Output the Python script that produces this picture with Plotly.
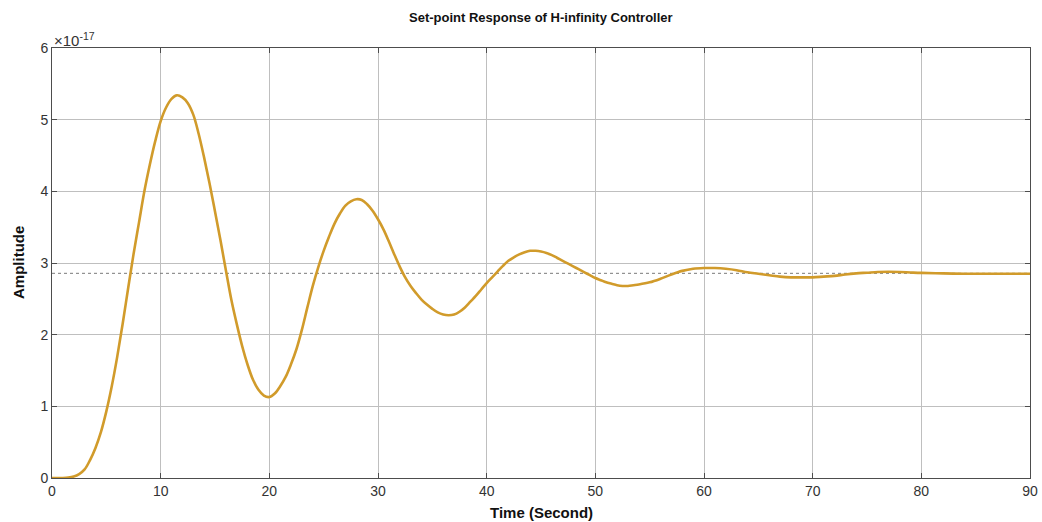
import plotly.graph_objects as go

# Time (s) and amplitude (in units of 1e-17)
time_s = [0, 0.5, 1.0, 1.5, 2.0, 2.5, 3.0, 3.5, 4.0, 4.5, 5.0, 5.5, 6.0, 6.5, 7.0, 7.5,
          8.0, 8.5, 9.0, 9.5, 10.0, 10.5, 11.0, 11.5, 12.0, 12.5, 13.0, 13.5, 14.0, 14.5,
          15.0, 15.5, 16.0, 16.5, 17.0, 17.5, 18.0, 18.5, 19.0, 19.5, 20.0, 20.5, 21.0,
          21.5, 22.0, 22.5, 23.0, 23.5, 24.0, 24.5, 25.0, 25.5, 26.0, 26.5, 27.0, 27.5,
          28.0, 28.5, 29.0, 29.5, 30.0, 30.5, 31.0, 31.5, 32.0, 32.5, 33.0, 33.5, 34.0,
          34.5, 35.0, 35.5, 36.0, 36.5, 37.0, 37.5, 38.0, 38.5, 39.0, 39.5, 40.0, 40.5,
          41.0, 41.5, 42.0, 42.5, 43.0, 43.5, 44.0, 44.5, 45.0, 45.5, 46.0, 46.5, 47.0,
          47.5, 48.0, 48.5, 49.0, 49.5, 50.0, 50.5, 51.0, 51.5, 52.0, 52.5, 53.0, 53.5,
          54.0, 55, 56, 57, 58, 59, 60, 61, 62, 63, 64, 65, 66, 67, 68, 69, 70, 71, 72,
          73, 74, 75, 76, 77, 78, 79, 80, 82, 84, 86, 88, 90]
amplitude = [0, 0, 0.0, 0.005, 0.02, 0.055, 0.12, 0.25, 0.42, 0.64, 0.93, 1.28, 1.69,
             2.15, 2.64, 3.12, 3.56, 4.0, 4.37, 4.70, 4.98, 5.17, 5.29, 5.34, 5.31, 5.23,
             5.07, 4.80, 4.47, 4.11, 3.72, 3.32, 2.90, 2.49, 2.15, 1.84, 1.58, 1.37, 1.23,
             1.15, 1.13, 1.18, 1.28, 1.41, 1.59, 1.80, 2.07, 2.38, 2.68, 2.94, 3.17, 3.37,
             3.55, 3.69, 3.80, 3.86, 3.89, 3.88, 3.82, 3.73, 3.61, 3.47, 3.30, 3.12, 2.95,
             2.80, 2.68, 2.58, 2.49, 2.42, 2.36, 2.31, 2.28, 2.27, 2.28, 2.32, 2.38, 2.46,
             2.54, 2.63, 2.72, 2.80, 2.88, 2.96, 3.03, 3.08, 3.12, 3.15, 3.17, 3.17, 3.16,
             3.14, 3.11, 3.07, 3.03, 2.99, 2.95, 2.91, 2.87, 2.83, 2.79, 2.76, 2.73, 2.71,
             2.69, 2.68, 2.68, 2.69, 2.70, 2.73, 2.78, 2.84, 2.89, 2.92, 2.93, 2.93, 2.92,
             2.90, 2.87, 2.85, 2.83, 2.81, 2.80, 2.80, 2.80, 2.81, 2.82, 2.84, 2.855, 2.865,
             2.875, 2.878, 2.875, 2.868, 2.862, 2.855, 2.85, 2.85, 2.85, 2.85]
steady_state = 2.856
x_ticks = [0, 10, 20, 30, 40, 50, 60, 70, 80, 90]
y_ticks = [0, 1, 2, 3, 4, 5, 6]

font_family = "Liberation Sans, Arial, sans-serif"

fig = go.Figure()
fig.add_trace(go.Scatter(
    x=[0, 90], y=[steady_state, steady_state], mode="lines",
    line=dict(color="#7a7a7a", width=1, dash="dot"), hoverinfo="skip", showlegend=False))
fig.add_trace(go.Scatter(
    x=time_s, y=amplitude, mode="lines",
    line=dict(color="#D19B2B", width=2.6, shape="spline", smoothing=1.0),
    showlegend=False))

axis_common = dict(
    showline=True, linecolor="#4d4d4d", linewidth=1, mirror="ticks",
    showgrid=True, gridcolor="#bfbfbf", gridwidth=1,
    ticks="inside", ticklen=5, tickcolor="#4d4d4d",
    tickfont=dict(family=font_family, size=14, color="#333333"),
    zeroline=False, automargin=False,
)

fig.update_layout(
    width=1042, height=522,
    margin=dict(l=52, r=12, t=48, b=44, autoexpand=False),
    paper_bgcolor="white", plot_bgcolor="white",
    xaxis=dict(range=[0, 90], tickvals=x_ticks, ticktext=[str(v) for v in x_ticks],
               **axis_common),
    yaxis=dict(range=[0, 6], tickvals=y_ticks, ticktext=[str(v) for v in y_ticks],
               **axis_common),
)
# Title
fig.add_annotation(
    xref="paper", yref="paper", x=0.5, y=1.0, xanchor="center", yanchor="middle",
    yshift=31, text="<b>Set-point Response of H-infinity Controller</b>", showarrow=False,
    font=dict(family=font_family, size=13, color="#111111"))
# Axis titles
fig.add_annotation(
    xref="paper", yref="paper", x=0.5, y=0.0, xanchor="center", yanchor="middle",
    yshift=-34, text="<b>Time (Second)</b>", showarrow=False,
    font=dict(family=font_family, size=15, color="#111111"))
fig.add_annotation(
    xref="paper", yref="paper", x=0.0, y=0.5, xanchor="center", yanchor="middle",
    xshift=-34, textangle=-90, text="<b>Amplitude</b>", showarrow=False,
    font=dict(family=font_family, size=15, color="#111111"))
# Exponent
fig.add_annotation(
    xref="paper", yref="paper", x=0.0, y=1.0, xanchor="left", yanchor="bottom",
    text="\u00d710<sup>-17</sup>", showarrow=False, xshift=0, yshift=-3,
    font=dict(family=font_family, size=15, color="#333333"))

fig.write_html("out.html", config={"displayModeBar": False},
               post_script="document.body.style.margin='0';")
